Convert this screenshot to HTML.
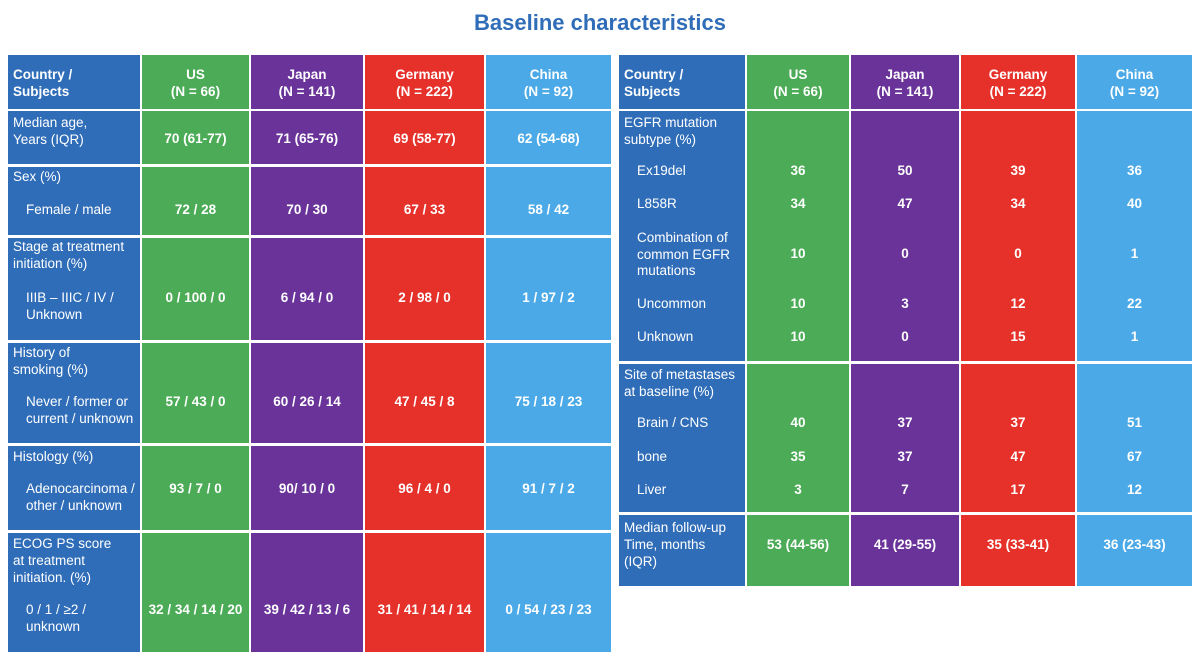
<!DOCTYPE html>
<html><head><meta charset="utf-8"><style>
body{margin:0;width:1200px;height:660px;background:#fff;position:relative;overflow:hidden;font-family:"Liberation Sans",sans-serif;}
.c{position:absolute;box-sizing:border-box;}
.t{position:absolute;color:#fff;font-size:13.5px;line-height:17px;white-space:nowrap;}
.b{font-weight:bold;}
#title{position:absolute;left:0;width:1200px;top:10px;text-align:center;font-size:22px;font-weight:bold;color:#2f6db8;}
</style></head><body>
<div id="title">Baseline characteristics</div>
<div id="root"></div>
<script>
const colors=['#2f6db8','#4cab56','#6a3399','#e5312a','#4ba9e7'];
const leftCols=[8,141,250,364,485,612];
const rightCols=[619,746,850,960,1076,1193];
const headers=[['US','(N = 66)'],['Japan','(N = 141)'],['Germany','(N = 222)'],['China','(N = 92)']];
const leftRows=[
 {y0:110,y1:164,name:'median-age',labels:[['Median age,',122,0],['Years (IQR)',139,0]],vals:[['70 (61-77)','71 (65-76)','69 (58-77)','62 (54-68)',138]]},
 {y0:166,y1:235,name:'sex',labels:[['Sex (%)',176,0],['Female / male',209,1]],vals:[['72 / 28','70 / 30','67 / 33','58 / 42',209]]},
 {y0:237,y1:340,name:'stage',labels:[['Stage at treatment',246,0],['initiation (%)',263,0],['IIIB – IIIC / IV /',297,1],['Unknown',314,1]],vals:[['0 / 100 / 0','6 / 94 / 0','2 / 98 / 0','1 / 97 / 2',297]]},
 {y0:342,y1:443,name:'smoking',labels:[['History of',352,0],['smoking (%)',369,0],['Never / former or',401,1],['current / unknown',418,1]],vals:[['57 / 43 / 0','60 / 26 / 14','47 / 45 / 8','75 / 18 / 23',401]]},
 {y0:445,y1:530,name:'histology',labels:[['Histology (%)',456,0],['Adenocarcinoma /',488,1],['other / unknown',505,1]],vals:[['93 / 7 / 0','90/ 10 / 0','96 / 4 / 0','91 / 7 / 2',488]]},
 {y0:532,y1:652,name:'ecog',labels:[['ECOG PS score',543,0],['at treatment',560,0],['initiation. (%)',577,0],['0 / 1 / ≥2 /',609,1],['unknown',626,1]],vals:[['32 / 34 / 14 / 20','39 / 42 / 13 / 6','31 / 41 / 14 / 14','0 / 54 / 23 / 23',609]]}
];
const rightRows=[
 {y0:110,y1:361,name:'egfr',labels:[['EGFR mutation',122,0],['subtype (%)',139,0],['Ex19del',170,1],['L858R',203,1],['Combination of',237,1],['common EGFR',254,1],['mutations',270,1],['Uncommon',303,1],['Unknown',336,1]],
  vals:[['36','50','39','36',170],['34','47','34','40',203],['10','0','0','1',253],['10','3','12','22',303],['10','0','15','1',336]]},
 {y0:363,y1:512,name:'metastases',labels:[['Site of metastases',374,0],['at baseline (%)',391,0],['Brain / CNS',422,1],['bone',456,1],['Liver',489,1]],
  vals:[['40','37','37','51',422],['35','37','47','67',456],['3','7','17','12',489]]},
 {y0:514,y1:586,name:'follow-up',labels:[['Median follow-up',527,0],['Time, months',544,0],['(IQR)',561,0]],vals:[['53 (44-56)','41 (29-55)','35 (33-41)','36 (23-43)',544]]}
];
const root=document.getElementById('root');
function cell(x0,x1,y0,y1,col,name){const d=document.createElement('div');d.className='c';
 d.style.cssText=`left:${x0}px;width:${x1-x0}px;top:${y0}px;height:${y1-y0}px;background:${col}`;
 
 
 root.appendChild(d);return d;}
function text(s,x,y,bold,center,w,name){const d=document.createElement('div');d.className='t'+(bold?' b':'');
 d.textContent=s;d.style.top=(y-8.5)+'px';
 if(center){d.style.left=x+'px';d.style.width=w+'px';d.style.textAlign='center';}else d.style.left=x+'px';
 
 
 root.appendChild(d);}
function table(cols,rows,side){
 const g=1;
 for(let i=0;i<5;i++){cell(cols[i]+(i?1:0),cols[i+1]-1,55,109,colors[i],side+'-header-cell');}
 text('Country /',cols[0]+5,74,true,false,0,'header-label');text('Subjects',cols[0]+5,91,true,false,0,'header-label');
 for(let i=0;i<4;i++){text(headers[i][0],cols[i+1],74,true,true,cols[i+2]-cols[i+1],'header-country');text(headers[i][1],cols[i+1],91,true,true,cols[i+2]-cols[i+1],'header-n');}
 rows.forEach(r=>{
  for(let i=0;i<5;i++)cell(cols[i]+(i?1:0),cols[i+1]-1,r.y0+1,r.y1,colors[i],side+'-'+r.name+'-cell');
  r.labels.forEach(l=>text(l[0],cols[0]+5+(l[2]?13:0),l[1],false,false,0,r.name+'-label'));
  r.vals.forEach(v=>{for(let i=0;i<4;i++)text(v[i],cols[i+1],v[4],true,true,cols[i+2]-cols[i+1],r.name+'-value');});
 });
}
table(leftCols,leftRows,'left');
table(rightCols,rightRows,'right');
</script>
</body></html>
